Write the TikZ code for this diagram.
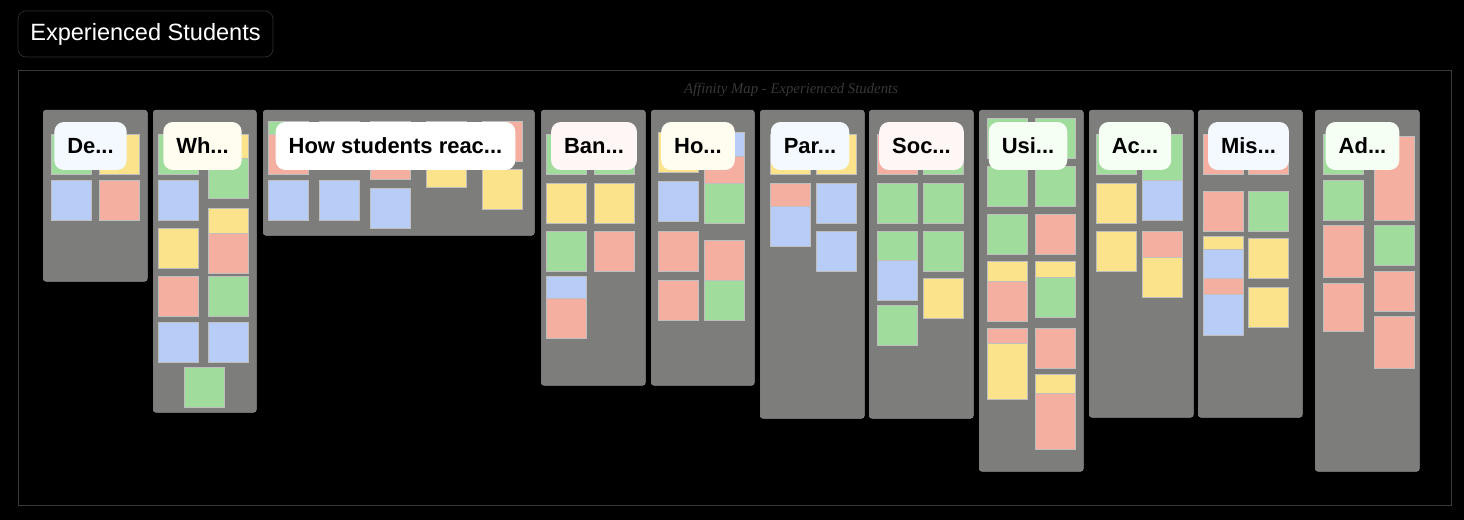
\documentclass[tikz,border=0pt]{standalone}
\usepackage{fontspec}
\setmainfont{Liberation Sans}
\newfontfamily\handfont{Liberation Serif}
\usepackage{xcolor}
\definecolor{stickyG}{HTML}{A0DC9C}
\definecolor{stickyY}{HTML}{FAE38A}
\definecolor{stickyB}{HTML}{B7CDF8}
\definecolor{stickyR}{HTML}{F4AFA0}
\definecolor{panelgray}{HTML}{7D7D7B}
\definecolor{framegray}{HTML}{3A3A3A}
\definecolor{lblblue}{HTML}{F3F9FF}
\definecolor{lblcream}{HTML}{FFFDF0}
\definecolor{lblpink}{HTML}{FFF6F6}
\definecolor{lblgreen}{HTML}{F6FFF4}

\begin{document}
\begin{tikzpicture}[x=0.02cm, y=-0.02cm,
    panel/.style={rectangle, rounded corners=1.5pt, fill=panelgray, draw=panelgray!85!white,
      line width=0.3pt, inner sep=0, anchor=north west},
    sticky/.style={rectangle, inner sep=0, anchor=north west, minimum width=0.8cm,
      draw=black!25, line width=0.2pt},
    headbox/.style={rectangle, rounded corners=5.5pt, minimum height=0.96cm, inner xsep=0.26cm,
      font=\fontsize{12.5}{15}\selectfont\bfseries, text=black}
]
\fill[black] (0,0) rectangle (1464,520);

\node[rectangle, rounded corners=4.5pt, draw=framegray!80!black, fill=black, line width=0.4pt,
  minimum width=5.1cm, minimum height=0.92cm, text=white,
  font=\fontsize{13.4}{16}\selectfont] (title) at (145.5,34) {Experienced Students};

\node[rectangle, draw=framegray, line width=0.5pt, inner sep=0, anchor=north west,
  minimum width=28.66cm, minimum height=8.7cm] (frame) at (18,70) {};
\node[text=black!78, font=\handfont\itshape\fontsize{8.4}{10}\selectfont] (frametitle) at (791,90)
  {Affinity Map - Experienced Students};

% columns
\foreach \n/\xa/\ya/\xb/\yb in {de/43/110/147/281, wh/153/110/256/412, how/263/110/534/235,
    ban/541/110/645/385, ho/651/110/754/385, par/760/110/864/418, soc/869/110/973/418,
    usi/979/110/1083/471, ac/1089/110/1193/417, mis/1198/110/1302/417, ad/1315/110/1419/471}
  \node[panel, minimum width={(\xb-\xa)*0.02cm}, minimum height={(\yb-\ya)*0.02cm}] (\n) at (\xa,\ya) {};

% sticky notes
\foreach \x/\y/\c/\h [count=\i] in {
    51/134/G/40, 99/134/Y/40, 51/180/B/40, 99/180/R/40,
    158/134/G/40, 158/180/B/40, 158/228/Y/40, 158/276/R/40, 158/322/B/40,
    208/134/Y/40, 208/158/G/40, 208/208/Y/40, 208/233/R/40, 208/276/G/40, 208/322/B/40, 184/367/G/40,
    268/121/G/40, 268/134/R/40, 268/180/B/40, 319/121/G/40, 319/180/B/40,
    370/121/G/40, 370/139/R/40, 370/188/B/40, 426/121/R/40, 426/147/Y/40, 482/121/R/40, 482/169/Y/40,
    546/134/G/40, 546/183/Y/40, 546/231/G/40, 546/276/B/40, 546/298/R/40,
    594/134/G/40, 594/183/Y/40, 594/231/R/40,
    658/132/Y/40, 658/181/B/40, 658/231/R/40, 658/280/R/40,
    704/132/B/40, 704/156/R/40, 704/183/G/40, 704/240/R/40, 704/280/G/40,
    770/134/Y/40, 770/183/R/40, 770/206/B/40, 816/134/Y/40, 816/183/B/40, 816/231/B/40,
    877/134/R/40, 877/183/G/40, 877/231/G/40, 877/260/B/40, 877/305/G/40,
    923/134/G/40, 923/183/G/40, 923/231/G/40, 923/278/Y/40,
    987/118/G/40, 987/166/G/40, 987/214/G/40, 987/261/Y/40, 987/281/R/40, 987/328/R/40, 987/343/Y/56,
    1035/118/G/40, 1035/166/G/40, 1035/214/R/40, 1035/261/Y/40, 1035/277/G/40, 1035/328/R/40,
    1035/374/Y/40, 1035/393/R/56,
    1096/134/G/40, 1096/183/Y/40, 1096/231/Y/40, 1142/134/G/46, 1142/180/B/40, 1142/231/R/40, 1142/257/Y/40,
    1203/134/R/40, 1203/191/R/40, 1203/236/Y/40, 1203/249/B/40, 1203/278/R/40, 1203/294/B/41,
    1248/134/R/40, 1248/191/G/40, 1248/238/Y/40, 1248/287/Y/40,
    1323/134/G/40, 1323/180/G/40, 1323/225/R/52, 1323/283/R/48,
    1374/136/R/84, 1374/225/G/40, 1374/271/R/40, 1374/316/R/52}
  \node[sticky, fill=sticky\c, minimum height={\h*0.02cm}] (s\i) at (\x,\y) {};

% column headings
\foreach \n/\cx/\col/\txt in {de/90.5/lblblue/De, wh/202.5/lblcream/Wh, how/395.5/white/How students reac,
    ban/594/lblpink/Ban, ho/698/lblcream/Ho, par/810/lblblue/Par, soc/921.5/lblpink/Soc,
    usi/1028/lblgreen/Usi, ac/1135/lblgreen/Ac, mis/1248.5/lblblue/Mis, ad/1362.5/lblgreen/Ad}
  \node[headbox, fill=\col] (\n-head) at (\cx,146) {\txt...};
\end{tikzpicture}
\end{document}
